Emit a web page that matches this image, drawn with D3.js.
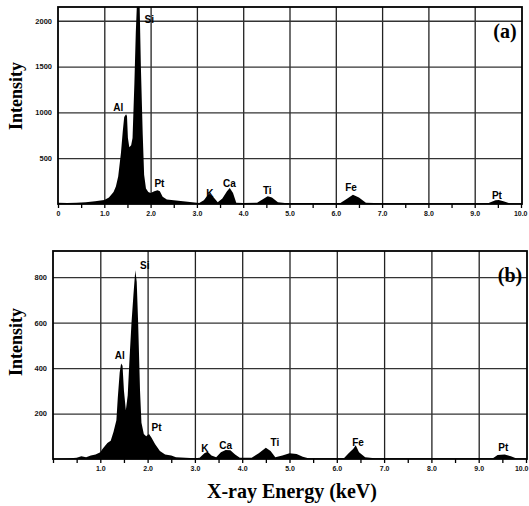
<!DOCTYPE html>
<html><head><meta charset="utf-8">
<script src="https://cdn.jsdelivr.net/npm/d3@7"></script>
<style>body{margin:0;background:#fff}svg{display:block}</style>
</head><body><svg id="c" width="529" height="506"></svg>
<script>
// ---- Data ----
const energyA = [0.0,0.2,0.4,0.6,0.8,1.0,1.1,1.2,1.25,1.3,1.36,1.40,1.43,1.47,1.49,1.51,1.54,1.58,1.61,1.65,1.68,1.71,1.76,1.79,1.83,1.86,1.90,1.95,2.00,2.08,2.15,2.20,2.26,2.35,2.5,2.7,2.9,3.05,3.15,3.26,3.35,3.45,3.55,3.65,3.71,3.78,3.85,4.0,4.3,4.45,4.53,4.62,4.75,4.9,5.5,6.1,6.25,6.37,6.5,6.65,7.0,8.0,9.0,9.3,9.45,9.52,9.62,9.75,10.0];
const countsA = [15,12,15,20,30,45,70,130,190,300,560,800,950,980,960,720,620,640,720,1320,1870,2250,2250,1500,760,320,170,130,120,140,150,140,80,50,40,30,20,12,40,115,80,20,60,140,175,120,15,10,15,60,85,70,20,10,10,12,60,100,70,15,8,8,8,10,40,45,30,8,5];
const energyB = [0.0,0.3,0.5,0.6,0.7,0.8,0.9,1.0,1.05,1.15,1.22,1.28,1.34,1.37,1.41,1.44,1.47,1.50,1.54,1.58,1.62,1.66,1.70,1.74,1.77,1.80,1.84,1.87,1.92,1.97,2.03,2.08,2.16,2.26,2.37,2.5,2.6,2.8,3.0,3.1,3.2,3.27,3.35,3.45,3.55,3.65,3.75,3.85,3.95,4.2,4.35,4.5,4.6,4.7,4.85,5.0,5.15,5.28,5.4,6.15,6.25,6.35,6.40,6.47,6.6,6.8,9.3,9.4,9.55,9.68,9.8,10.0];
const countsB = [0,2,5,12,8,15,20,30,45,70,80,120,170,270,380,420,410,300,215,280,450,600,720,830,780,600,300,160,110,100,110,95,65,35,20,15,8,5,3,5,25,32,15,8,30,40,38,20,5,5,25,50,35,8,15,25,22,10,3,3,25,45,60,30,8,3,3,18,20,12,2,2];

const xTickValues = [0,0.5,1,1.5,2,2.5,3,3.5,4,4.5,5,5.5,6,6.5,7,7.5,8,8.5,9,9.5,10];
const xGridValues = [1,2,3,4,5,6,7,8,9];
const xLabelsA = {0:"0",1:"1.0",2:"2.0",3:"3.0",4:"4.0",5:"5.0",6:"6.0",7:"7.0",8:"8.0",9:"9.0",10:"10.0"};
const xLabelsB = {1:"1.0",2:"2.0",3:"3.0",4:"4.0",5:"5.0",6:"6.0",7:"7.0",8:"8.0",9:"9.0",10:"10.0"};
const yTicksA = [500,1000,1500,2000];
const yTicksB = [200,400,600,800];

const peakNamesA = ["Al","Si","Pt","K","Ca","Ti","Fe","Pt"];
const peakEnergyA = [1.30,1.97,2.19,3.28,3.70,4.52,6.33,9.48];
const peakCountsA = [1020,1970,186,77,186,109,142,55];
const peakNamesB = ["Al","Si","Pt","K","Ca","Ti","Fe","Pt"];
const peakEnergyB = [1.41,1.94,2.19,3.21,3.65,4.69,6.45,9.52];
const peakCountsB = [440,835,123,31,44,57,57,35];

const svg = d3.select("#c");
svg.append("rect").attr("width",529).attr("height",506).attr("fill","#fff");

function panel(o){
  const g = svg.append("g");
  const x = d3.scaleLinear().domain([0,10]).range([o.x0,o.x1]);
  const y = d3.scaleLinear().domain([0,o.yMax]).range([o.y1,o.y0]);
  const id = "clip"+o.tag;
  svg.append("clipPath").attr("id",id).append("rect")
    .attr("x",o.fl).attr("y",o.y0).attr("width",o.fr-o.fl).attr("height",o.y1-o.y0);

  // grid
  const gx = g.append("g").attr("transform",`translate(0,${o.y1})`)
    .call(d3.axisBottom(x).tickValues(xGridValues).tickSize(-(o.y1-o.y0)).tickFormat(""));
  gx.select(".domain").remove();
  gx.selectAll("line").attr("stroke","#222").attr("stroke-width",1.3);
  const gy = g.append("g").attr("transform",`translate(${o.fl},0)`)
    .call(d3.axisLeft(y).tickValues(o.yTicks).tickSize(-(o.fr-o.fl)).tickPadding(6).tickFormat(d3.format("d")));
  gy.select(".domain").remove();
  gy.selectAll("line").attr("stroke","#333").attr("stroke-width",1.3);
  gy.selectAll("text").attr("font-family","Liberation Sans, Arial, sans-serif")
    .attr("font-weight","bold").attr("font-size",7.5).attr("fill","#111");

  // spectrum
  const area = d3.area().x((d,i)=>x(o.e[i])).y0(y(0)).y1((d,i)=>y(d));
  g.append("path").datum(o.c).attr("d",area).attr("fill","#000")
    .attr("clip-path",`url(#${id})`);

  // frame
  g.append("rect").attr("x",o.fl).attr("y",o.y0).attr("width",o.fr-o.fl).attr("height",o.y1-o.y0)
    .attr("fill","none").attr("stroke","#000").attr("stroke-width",1.8);

  // bottom ticks
  const bx = g.append("g").attr("transform",`translate(0,${o.y1})`)
    .call(d3.axisBottom(x).tickValues(xTickValues).tickSize(4).tickPadding(3)
      .tickFormat(d => o.xLabels[d] !== undefined ? o.xLabels[d] : ""));
  bx.select(".domain").remove();
  bx.selectAll("line").attr("stroke","#000").attr("stroke-width",1.3);
  bx.selectAll("text").attr("font-family","Liberation Sans, Arial, sans-serif")
    .attr("font-weight","bold").attr("font-size",7).attr("fill","#111")
    .filter(d => d === 10).attr("text-anchor","end").attr("dx", o.lastDx);

  // peak labels
  g.selectAll("text.pk").data(o.names).enter().append("text").attr("class","pk")
    .attr("x",(d,i)=>x(o.pe[i])).attr("y",(d,i)=>y(o.pc[i]))
    .attr("text-anchor","middle")
    .attr("font-family","Liberation Sans, Arial, sans-serif").attr("font-weight","bold")
    .attr("font-size",10).attr("fill","#000").text(d=>d);

  // panel tag
  g.append("text").attr("x",o.fr-17).attr("y",o.y0+31).attr("text-anchor","middle")
    .attr("font-family","Liberation Serif, Times New Roman, serif").attr("font-weight","bold")
    .attr("font-size",20).text(`(${o.tag})`);

  // y title
  g.append("text").attr("transform",`translate(22,${o.ty}) rotate(-90)`).attr("text-anchor","middle")
    .attr("font-family","Liberation Serif, Times New Roman, serif").attr("font-weight","bold")
    .attr("font-size",18).text("Intensity");
}

panel({tag:"a", x0:58, x1:521, fl:58, fr:522, y0:7, y1:204, yMax:2150,
  e:energyA, c:countsA, yTicks:yTicksA, xLabels:xLabelsA,
  names:peakNamesA, pe:peakEnergyA, pc:peakCountsA, ty:96, lastDx:6});
panel({tag:"b", x0:53, x1:526, fl:53, fr:527, y0:251, y1:459, yMax:915,
  e:energyB, c:countsB, yTicks:yTicksB, xLabels:xLabelsB,
  names:peakNamesB, pe:peakEnergyB, pc:peakCountsB, ty:342, lastDx:2});

svg.append("text").attr("x",292).attr("y",498).attr("text-anchor","middle")
  .attr("font-family","Liberation Serif, Times New Roman, serif").attr("font-weight","bold")
  .attr("font-size",20).text("X-ray Energy (keV)");
</script>
</body></html>
